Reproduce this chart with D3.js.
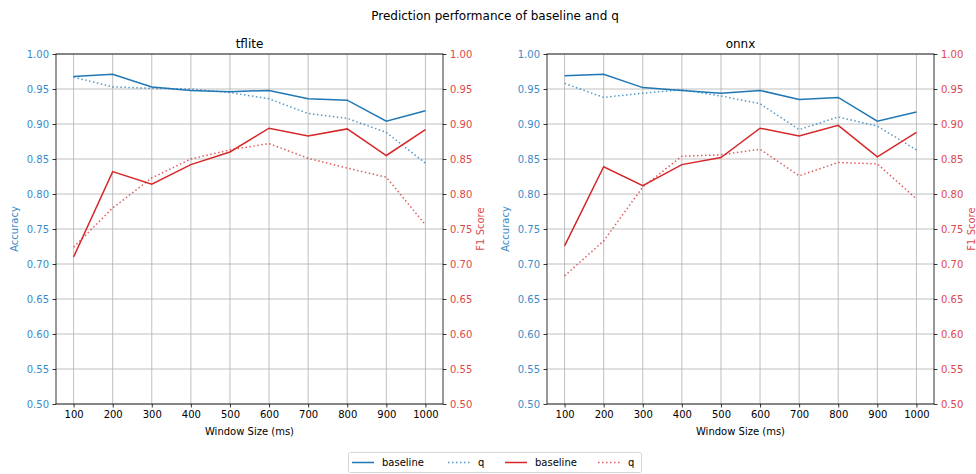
<!DOCTYPE html>
<html>
<head>
<meta charset="utf-8">
<script src="https://cdn.jsdelivr.net/npm/d3@7"></script>
<style>
  body { margin: 0; background: #fff; }
  svg text { font-family: "DejaVu Sans", sans-serif; }
</style>
</head>
<body>
<div id="chart"></div>
<script>
let windows = [100, 200, 300, 400, 500, 600, 700, 800, 900, 1000]
let yTicks = [0.50, 0.55, 0.60, 0.65, 0.70, 0.75, 0.80, 0.85, 0.90, 0.95, 1.00]

let tfliteAccBase = [0.968, 0.971, 0.953, 0.948, 0.946, 0.948, 0.936, 0.934, 0.904, 0.919]
let tfliteAccQ    = [0.967, 0.953, 0.951, 0.950, 0.945, 0.936, 0.915, 0.908, 0.888, 0.844]
let tfliteF1Base  = [0.710, 0.832, 0.814, 0.842, 0.860, 0.894, 0.883, 0.893, 0.855, 0.892]
let tfliteF1Q     = [0.724, 0.780, 0.823, 0.850, 0.863, 0.872, 0.851, 0.837, 0.824, 0.756]

let onnxAccBase = [0.969, 0.971, 0.952, 0.948, 0.944, 0.948, 0.935, 0.938, 0.904, 0.917]
let onnxAccQ    = [0.958, 0.938, 0.944, 0.949, 0.940, 0.929, 0.892, 0.910, 0.897, 0.863]
let onnxF1Base  = [0.726, 0.839, 0.812, 0.842, 0.852, 0.894, 0.883, 0.898, 0.853, 0.888]
let onnxF1Q     = [0.683, 0.733, 0.810, 0.854, 0.856, 0.864, 0.826, 0.845, 0.843, 0.793]

let blue = '#1f77b4', red = '#d62728'
let blueText = '#3b8bc8', redText = '#e0474b'

let svg = d3.select('#chart')
    .append('svg')
    .attr('width', 976)
    .attr('height', 474)

svg.append('text')
    .attr('x', 495).attr('y', 20)
    .attr('text-anchor', 'middle')
    .style('font-size', '12px')
    .text('Prediction performance of baseline and q')

let panels = [
    { title: 'tflite', left: 56, acc: [tfliteAccBase, tfliteAccQ], f1: [tfliteF1Base, tfliteF1Q] },
    { title: 'onnx', left: 547, acc: [onnxAccBase, onnxAccQ], f1: [onnxF1Base, onnxF1Q] }
]

let plotTop = 54, plotBottom = 404, plotWidth = 387

panels.forEach(p => {
    let g = svg.append('g').attr('transform', `translate(${p.left},0)`)

    let x = d3.scaleLinear().domain([55, 1045]).range([0, plotWidth])
    let yAcc = d3.scaleLinear().domain([0.5, 1.0]).range([plotBottom, plotTop])
    let yF1 = d3.scaleLinear().domain([0.5, 1.0]).range([plotBottom, plotTop])

    // grid
    g.selectAll('.vgrid').data(windows).enter().append('line')
        .attr('x1', d => x(d)).attr('x2', d => x(d))
        .attr('y1', plotTop).attr('y2', plotBottom)
        .attr('stroke', '#b0b0b0').attr('stroke-width', 0.8)
    g.selectAll('.hgrid').data(yTicks).enter().append('line')
        .attr('x1', 0).attr('x2', plotWidth)
        .attr('y1', d => yAcc(d)).attr('y2', d => yAcc(d))
        .attr('stroke', '#b0b0b0').attr('stroke-width', 0.8)

    let line = ys => d3.line().x((d, i) => x(windows[i])).y(d => ys(d))

    let series = [
        { data: p.acc[0], color: blue, dash: null, scale: yAcc },
        { data: p.acc[1], color: blue, dash: '1.5,2.5', scale: yAcc },
        { data: p.f1[0], color: red, dash: null, scale: yF1 },
        { data: p.f1[1], color: red, dash: '1.5,2.5', scale: yF1 }
    ]
    series.forEach(s => {
        g.append('path')
            .datum(s.data)
            .attr('d', line(s.scale))
            .attr('fill', 'none')
            .attr('stroke', s.color)
            .attr('stroke-width', 1.5)
            .attr('stroke-opacity', s.dash ? 0.75 : 1)
            .attr('stroke-dasharray', s.dash)
    })

    let xAxis = d3.axisBottom(x).tickValues(windows).tickFormat(d3.format('d')).tickSize(3.5).tickPadding(3.5)
    let yAxisL = d3.axisLeft(yAcc).tickValues(yTicks).tickFormat(d3.format('.2f')).tickSize(3.5).tickPadding(3.5)
    let yAxisR = d3.axisRight(yF1).tickValues(yTicks).tickFormat(d3.format('.2f')).tickSize(3.5).tickPadding(3.5)

    let ax = g.append('g').attr('transform', `translate(0,${plotBottom})`).call(xAxis)
    ax.selectAll('text').style('font-size', '10px').attr('fill', '#000')
    let al = g.append('g').call(yAxisL)
    al.selectAll('text').style('font-size', '10px').attr('fill', blueText)
    let ar = g.append('g').attr('transform', `translate(${plotWidth},0)`).call(yAxisR)
    ar.selectAll('text').style('font-size', '10px').attr('fill', redText)
    g.selectAll('.domain').remove()
    g.selectAll('.tick line').attr('stroke', '#000').attr('stroke-width', 0.8)

    // frame
    g.append('rect')
        .attr('x', 0).attr('y', plotTop)
        .attr('width', plotWidth).attr('height', plotBottom - plotTop)
        .attr('fill', 'none').attr('stroke', '#000').attr('stroke-width', 0.8)

    g.append('text')
        .attr('x', plotWidth / 2).attr('y', 48)
        .attr('text-anchor', 'middle')
        .style('font-size', '12px')
        .text(p.title)

    g.append('text')
        .attr('x', plotWidth / 2).attr('y', 435)
        .attr('text-anchor', 'middle')
        .style('font-size', '10px')
        .text('Window Size (ms)')

    g.append('text')
        .attr('transform', `translate(-38,${(plotTop + plotBottom) / 2}) rotate(-90)`)
        .attr('text-anchor', 'middle')
        .style('font-size', '10px')
        .attr('fill', blueText)
        .text('Accuracy')

    g.append('text')
        .attr('transform', `translate(${plotWidth + 41},${(plotTop + plotBottom) / 2}) rotate(-90)`)
        .attr('text-anchor', 'middle')
        .style('font-size', '10px')
        .attr('fill', redText)
        .text('F1 Score')
})

// legend
let legendItems = [
    { label: 'baseline', color: blue, dash: null },
    { label: 'q', color: blue, dash: '1.5,2.5' },
    { label: 'baseline', color: red, dash: null },
    { label: 'q', color: red, dash: '1.5,2.5' }
]
let legendX = [352, 448, 505, 598]
let lg = svg.append('g')
lg.append('rect')
    .attr('x', 348.5).attr('y', 452.5)
    .attr('width', 293).attr('height', 20)
    .attr('rx', 2)
    .attr('fill', '#fff').attr('stroke', '#d6d6d6')
legendItems.forEach((d, i) => {
    lg.append('line')
        .attr('x1', legendX[i]).attr('x2', legendX[i] + 22)
        .attr('y1', 462.5).attr('y2', 462.5)
        .attr('stroke', d.color).attr('stroke-width', 1.5)
        .attr('stroke-opacity', d.dash ? 0.75 : 1)
        .attr('stroke-dasharray', d.dash)
    lg.append('text')
        .attr('x', legendX[i] + 30).attr('y', 466)
        .style('font-size', '10px')
        .text(d.label)
})
</script>
</body>
</html>
